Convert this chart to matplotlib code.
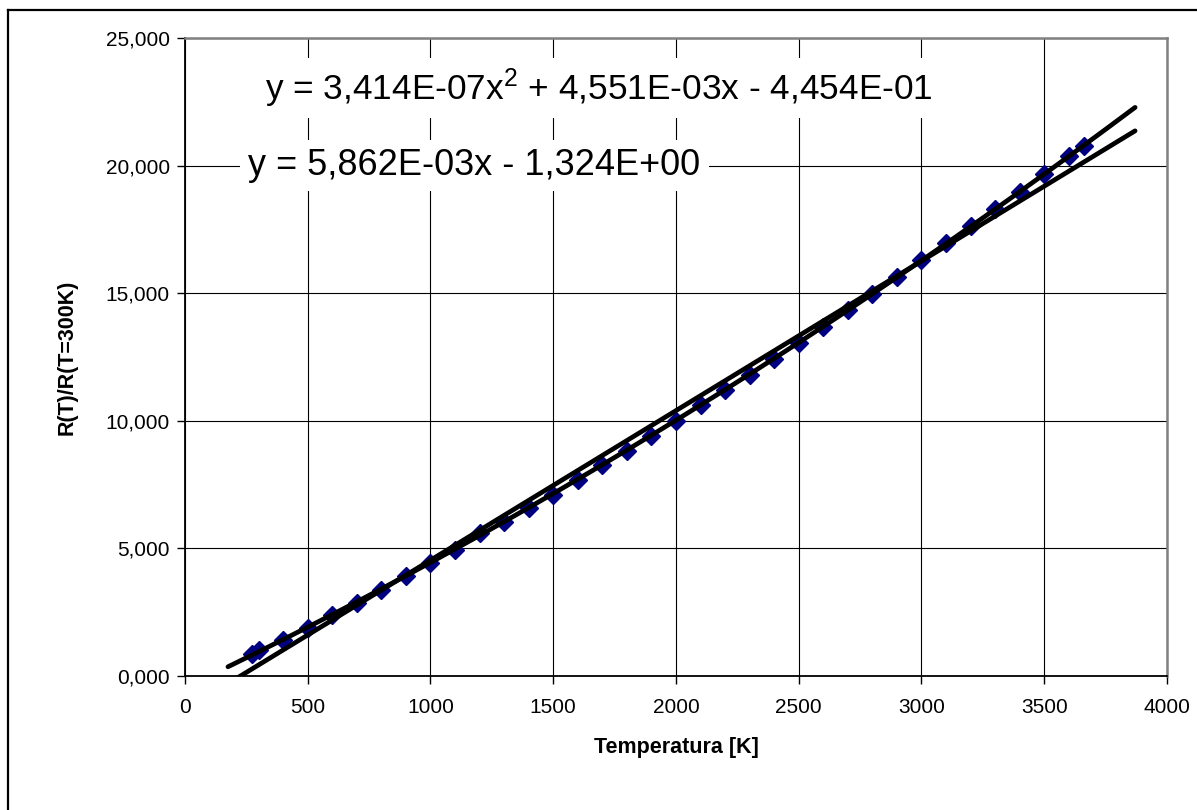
import matplotlib
matplotlib.use("Agg")
import matplotlib.pyplot as plt
from matplotlib.lines import Line2D
import numpy as np

plt.rcParams['font.family'] = ['Liberation Sans', 'DejaVu Sans']
plt.rcParams['mathtext.fontset'] = 'custom'
plt.rcParams['mathtext.rm'] = 'Liberation Sans'
plt.rcParams['mathtext.it'] = 'Liberation Sans'

# Measured resistance ratio vs temperature
temperature_K = [273, 300, 400, 500, 600, 700, 800, 900, 1000, 1100, 1200, 1300,
                 1400, 1500, 1600, 1700, 1800, 1900, 2000, 2100, 2200, 2300, 2400,
                 2500, 2600, 2700, 2800, 2900, 3000, 3100, 3200, 3300, 3400, 3500,
                 3600, 3660]
resistance_ratio = [0.87, 1.00, 1.42, 1.89, 2.38, 2.88, 3.38, 3.90, 4.42, 4.95, 5.60,
                    6.03, 6.57, 7.11, 7.68, 8.25, 8.83, 9.41, 10.00, 10.60, 11.20,
                    11.81, 12.43, 13.06, 13.69, 14.33, 14.98, 15.63, 16.29, 16.95,
                    17.62, 18.30, 18.98, 19.67, 20.37, 20.76]

# Trendline coefficients (highest power first)
quad_coeffs = [3.414e-07, 4.551e-03, -4.454e-01]
lin_coeffs = [5.862e-03, -1.324e+00]
trend_T_range = [175, 3870]

quad_label = "y = 3,414E-07x$^{\\mathrm{2}}$ + 4,551E-03x - 4,454E-01"
lin_label = "y = 5,862E-03x - 1,324E+00"

x_ticks = [0, 500, 1000, 1500, 2000, 2500, 3000, 3500, 4000]
x_tick_labels = ["0", "500", "1000", "1500", "2000", "2500", "3000", "3500", "4000"]
y_ticks = [0, 5, 10, 15, 20, 25]
y_tick_labels = ["0,000", "5,000", "10,000", "15,000", "20,000", "25,000"]

W, H = 1197, 810
fig = plt.figure(figsize=(W / 100, H / 100), dpi=100)
fig.patch.set_facecolor('white')

ax = fig.add_axes([185 / W, 1 - 676 / H, (1167 - 185) / W, (676 - 38) / H])
ax.set_xlim(0, 4000)
ax.set_ylim(0, 25)

ax.grid(True, color='black', linewidth=0.8, zorder=0)
ax.set_axisbelow(True)

ax.plot(temperature_K, resistance_ratio, linestyle='none', marker='D',
        markersize=9, color='#000080', markeredgecolor='#000080', zorder=3)

t = np.linspace(trend_T_range[0], trend_T_range[1], 300)
ax.plot(t, np.polyval(quad_coeffs, t), color='black', linewidth=3.4,
        solid_capstyle='round', zorder=4)
ax.plot(t, np.polyval(lin_coeffs, t), color='black', linewidth=3.4,
        solid_capstyle='round', zorder=4)

ax.text(326, 23.05, quad_label, fontsize=25.4, va='center', ha='left', zorder=5,
        bbox=dict(facecolor='white', edgecolor='none', pad=6))
ax.text(257, 20.0, lin_label, fontsize=26, va='center', ha='left', zorder=5,
        bbox=dict(facecolor='white', edgecolor='none', pad=6))

ax.set_xticks(x_ticks)
ax.set_xticklabels(x_tick_labels)
ax.set_yticks(y_ticks)
ax.set_yticklabels(y_tick_labels)
ax.tick_params(axis='both', direction='out', length=6, width=1, color='black',
               labelsize=15)
ax.tick_params(axis='x', pad=10)
ax.tick_params(axis='y', pad=5)

for side in ('left', 'bottom'):
    ax.spines[side].set_color('black')
    ax.spines[side].set_linewidth(1.3)
for side in ('top', 'right'):
    ax.spines[side].set_color('#808080')
    ax.spines[side].set_linewidth(1.8)

ax.set_xlabel("Temperatura [K]", fontsize=15.5, fontweight='bold', labelpad=14)
ax.set_ylabel("R(T)/R(T=300K)", fontsize=15.5, fontweight='bold', labelpad=20)

# Chart-area frame (top and left edges)
fig.add_artist(Line2D([7.5 / W, 1.0], [1 - 9.5 / H, 1 - 9.5 / H],
                      color='black', linewidth=1.6, transform=fig.transFigure))
fig.add_artist(Line2D([7.5 / W, 7.5 / W], [0.0, 1 - 9.5 / H],
                      color='black', linewidth=1.6, transform=fig.transFigure))

fig.savefig("out.png", dpi=100, facecolor='white')
